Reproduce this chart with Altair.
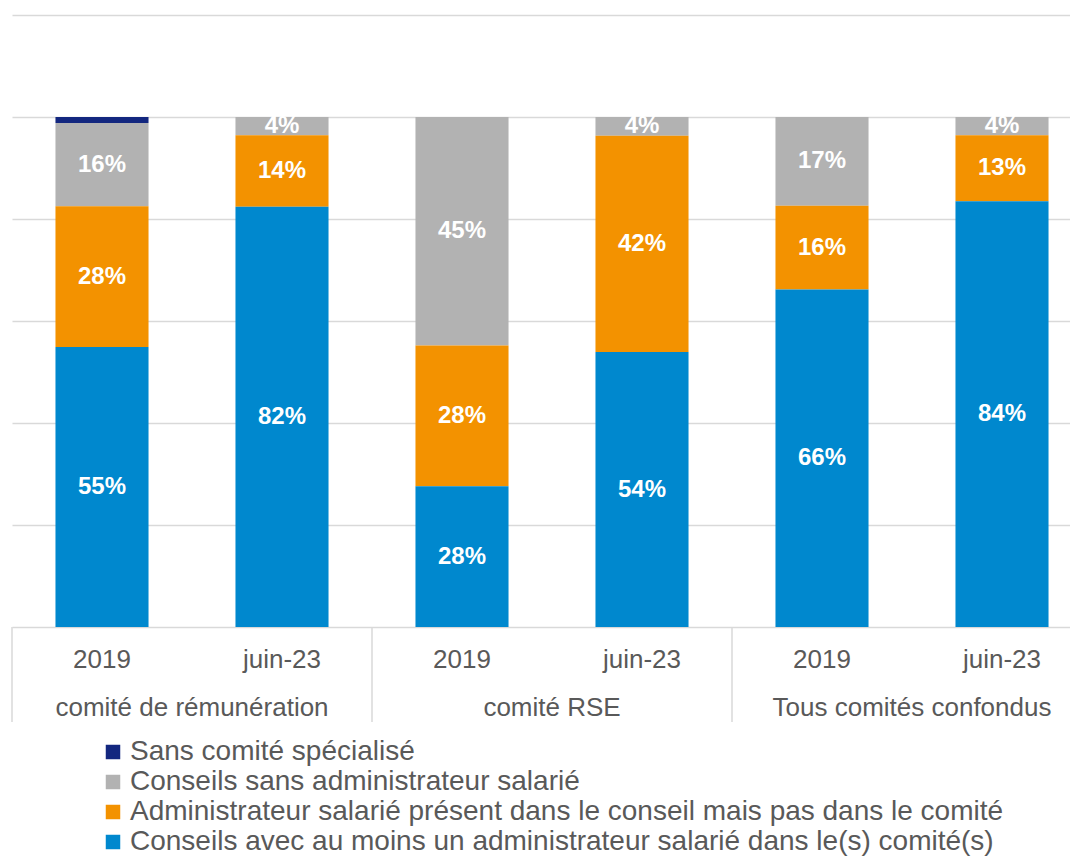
import altair as alt
import pandas as pd

groups = ["comité de rémunération", "comité RSE", "Tous comités confondus"]
periods = ["2019", "juin-23"]
series = [
    "Sans comité spécialisé",
    "Conseils sans administrateur salarié",
    "Administrateur salarié présent dans le conseil mais pas dans le comité",
    "Conseils avec au moins un administrateur salarié dans le(s) comité(s)",
]
colors = ["#13277f", "#b2b2b2", "#f39200", "#0088ce"]

# values per bar: rem-2019, rem-juin23, rse-2019, rse-juin23, tous-2019, tous-juin23
navy = [0.012, 0.0, 0.0, 0.0, 0.0, 0.0]
gray = [0.163, 0.036, 0.448, 0.037, 0.174, 0.036]
orange = [0.276, 0.140, 0.276, 0.424, 0.164, 0.129]
blue = [0.549, 0.824, 0.276, 0.539, 0.662, 0.835]

rows = []
axis_rows = []
bar_keys = []
for gi, g in enumerate(groups):
    for pi, p in enumerate(periods):
        key = f"{g} | {p}"
        bar_keys.append(key)
        axis_rows.append(dict(key=key, group=g, period=p))
        i = gi * 2 + pi
        for si, (s, vals) in enumerate(zip(series, [navy, gray, orange, blue])):
            rows.append(dict(key=key, group=g, period=p, series=s,
                             value=vals[i], order=3 - si))
df = pd.DataFrame(rows)
axis_df = pd.DataFrame(axis_rows)
first_df = axis_df[axis_df["period"] == periods[0]]

FONT = "Liberation Sans"
TXT = "#595959"
H = 612
STEP_RANGE = 1080

x = alt.X("key:N", sort=bar_keys,
          scale=alt.Scale(domain=bar_keys, range=[0, STEP_RANGE],
                          paddingInner=0.483, paddingOuter=0.2415),
          axis=None)

base = alt.Chart(df).transform_stack(
    stack="value", groupby=["key"], as_=["y0", "y1"],
    sort=[alt.SortField("order", order="ascending")]
).transform_calculate(mid="(datum.y0 + datum.y1) / 2")

bars = base.transform_filter("datum.value > 0").mark_bar().encode(
    x=x,
    y=alt.Y("y0:Q", scale=alt.Scale(domain=[0, 1.2], nice=False),
            axis=alt.Axis(values=[0, 0.2, 0.4, 0.6, 0.8, 1.0, 1.2], labels=False,
                          ticks=False, domain=False, grid=True, gridColor="#d9d9d9",
                          gridWidth=1.3, title=None)),
    y2="y1:Q",
    color=alt.Color("series:N", scale=alt.Scale(domain=series, range=colors),
                    legend=alt.Legend(title=None, orient="none", legendX=87, legendY=723,
                                      symbolType="square", symbolSize=210,
                                      symbolStrokeWidth=0, labelFontSize=28,
                                      labelFont=FONT, labelColor=TXT, labelLimit=1200,
                                      rowPadding=2, labelOffset=3)),
)

labels = base.transform_filter("datum.value >= 0.02").mark_text(
    color="white", fontWeight="bold", fontSize=24, font=FONT, baseline="middle"
).encode(x=x, y="mid:Q", text=alt.Text("value:Q", format=".0%"))

years = alt.Chart(axis_df).mark_text(
    fontSize=26, font=FONT, color=TXT, baseline="middle"
).encode(x=x, y=alt.value(H + 33), text="period:N")

group_lbl = alt.Chart(first_df).mark_text(
    fontSize=26, font=FONT, color=TXT, baseline="middle", dx=90
).encode(x=x, y=alt.value(H + 81), text="group:N")

seps = alt.Chart(first_df).mark_rule(
    color="#d9d9d9", strokeWidth=1.5, xOffset=-90
).encode(x=x, y=alt.value(H), y2=alt.value(H + 95))

chart = alt.layer(bars, labels, years, group_lbl, seps).properties(
    width=1058, height=H,
    padding={"left": 4, "top": 7, "right": 0, "bottom": 236},
    autosize="none",
).configure_view(stroke=None)

chart.save("out.html", embed_options={"renderer": "svg", "actions": False})
